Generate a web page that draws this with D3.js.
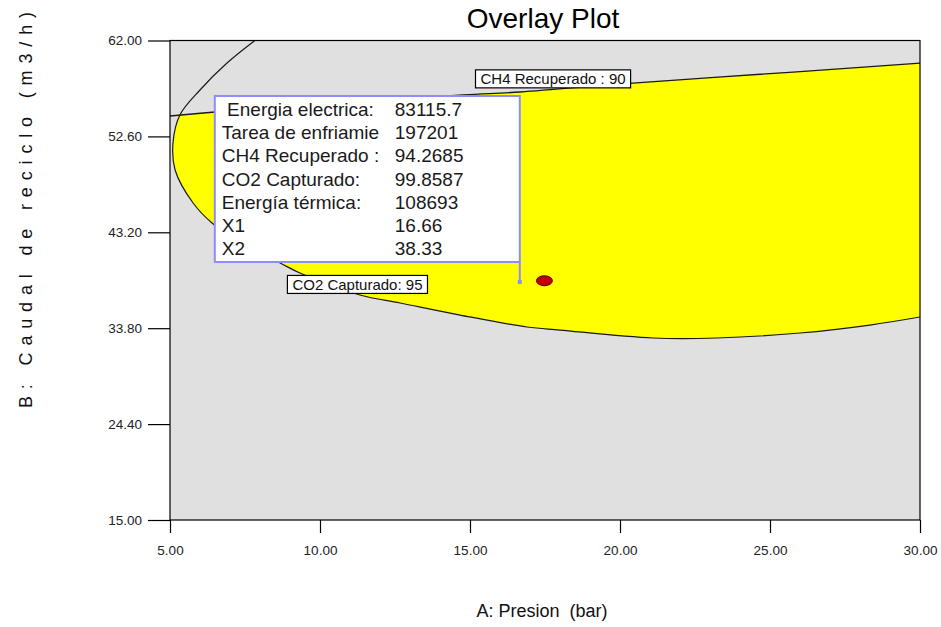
<!DOCTYPE html>
<html>
<head>
<meta charset="utf-8">
<script src="https://cdn.jsdelivr.net/npm/d3@7"></script>
<style>
  html, body { margin: 0; padding: 0; background: #fff; }
  svg { display: block; font-family: "Liberation Sans", Arial, sans-serif; }
</style>
</head>
<body>
<svg id="chart" width="941" height="627"></svg>
<script>
// Axis ranges and tick values
const xDomain = [5, 30];
const yDomain = [15, 62];
const xTicks = [5, 10, 15, 20, 25, 30];
const yTicks = [15, 24.4, 33.8, 43.2, 52.6, 62];

// Contour CO2 Capturado = 95 (A: Presion, B: Caudal de reciclo)
const co2Presion = [7.83, 6.90, 6.00, 5.33, 5.10, 5.17, 5.77, 6.40, 7.50, 8.67, 9.33, 11.33, 12.67, 14.67, 16.90, 18.00, 21.10, 23.23, 26.00, 28.33, 30.00];
const co2Caudal  = [62.00, 59.79, 57.15, 54.70, 51.95, 49.31, 46.07, 44.11, 41.86, 40.19, 39.21, 37.05, 36.27, 35.09, 33.92, 33.62, 32.84, 32.84, 33.33, 34.11, 34.90];

// Contour CH4 Recuperado = 90
const ch4Presion = [5.00, 6.50, 10.00, 14.77, 16.67, 20.43, 25.77, 30.00];
const ch4Caudal  = [54.60, 54.99, 55.75, 56.66, 56.95, 57.83, 58.91, 59.79];

// Contour labels and their anchor points
const contourLabels = ["CH4 Recuperado : 90", "CO2 Capturado: 95"];
const labelPresion = [15.35, 9.08];
const labelCaudal  = [57.7, 37.55];

// Selected design point
const pointPresion = [17.48];
const pointCaudal  = [38.45];

// Flag readout at X1/X2
const flagNames  = [" Energia electrica:", "Tarea de enfriamie", "CH4 Recuperado :", "CO2 Capturado:", "Energía térmica:", "X1", "X2"];
const flagValues = ["83115.7", "197201", "94.2685", "99.8587", "108693", "16.66", "38.33"];
const flagX1 = 16.66;
const flagX2 = 38.33;

const svg = d3.select("#chart");
const pLeft = 170, pRight = 920, pTop = 40.5, pBottom = 520;

const x = d3.scaleLinear().domain(xDomain).range([pLeft, pRight]);
const y = d3.scaleLinear().domain(yDomain).range([pBottom, pTop]);

const co2 = co2Presion.map((p, i) => [p, co2Caudal[i]]);
const ch4 = ch4Presion.map((p, i) => [p, ch4Caudal[i]]);

const curve = d3.line().x(d => x(d[0])).y(d => y(d[1])).curve(d3.curveCatmullRom.alpha(0.5));

const defs = svg.append("defs");
defs.append("clipPath").attr("id", "plotClip")
  .append("rect").attr("x", pLeft).attr("y", pTop).attr("width", pRight - pLeft).attr("height", pBottom - pTop);
// Region below the CH4 contour
defs.append("clipPath").attr("id", "ch4Clip")
  .append("path")
  .attr("d", curve(ch4) + `L${x(30)},${y(15)}L${x(5)},${y(15)}Z`);

// Plot background
svg.append("rect")
  .attr("x", pLeft).attr("y", pTop).attr("width", pRight - pLeft).attr("height", pBottom - pTop)
  .attr("fill", "#e0e0e0");

// Feasible (overlay) region
const plot = svg.append("g").attr("clip-path", "url(#plotClip)");
plot.append("g").attr("clip-path", "url(#ch4Clip)")
  .append("path")
  .attr("d", curve(co2) + `L${x(30)},${y(62)}Z`)
  .attr("fill", "#ffff00");

// Contour lines
plot.append("path").attr("d", curve(co2))
  .attr("fill", "none").attr("stroke", "#1a1a1a").attr("stroke-width", 1.2);
plot.append("path").attr("d", curve(ch4))
  .attr("fill", "none").attr("stroke", "#1a1a1a").attr("stroke-width", 1.3);

// Design point
plot.selectAll("ellipse.pt").data(pointPresion).join("ellipse")
  .attr("class", "pt")
  .attr("cx", (d) => x(d)).attr("cy", (d, i) => y(pointCaudal[i]))
  .attr("rx", 8).attr("ry", 5)
  .attr("fill", "#c00000").attr("stroke", "#5a0000").attr("stroke-width", 1);

// Frame
svg.append("rect")
  .attr("x", pLeft).attr("y", pTop).attr("width", pRight - pLeft).attr("height", pBottom - pTop)
  .attr("fill", "none").attr("stroke", "#000").attr("stroke-width", 1.2);

// Axes
const fmt = d3.format(".2f");
const xAxis = svg.append("g").attr("transform", `translate(0,${pBottom})`)
  .call(d3.axisBottom(x).tickValues(xTicks).tickFormat(fmt).tickSize(13).tickPadding(12));
const yAxis = svg.append("g").attr("transform", `translate(${pLeft},0)`)
  .call(d3.axisLeft(y).tickValues(yTicks).tickFormat(fmt).tickSize(22).tickPadding(6));
[xAxis, yAxis].forEach(g => {
  g.select(".domain").remove();
  g.selectAll(".tick line").attr("stroke", "#000").attr("stroke-width", 1.2);
  g.selectAll(".tick text").attr("fill", "#222")
    .style("font-family", "'Liberation Sans', Arial, sans-serif").style("font-size", "13.5px");
});

// Contour labels
contourLabels.forEach((t, i) => {
  const g = svg.append("g");
  const tx = g.append("text").attr("x", x(labelPresion[i])).attr("y", y(labelCaudal[i]))
    .attr("font-size", 15).attr("fill", "#111").text(t);
  const bb = tx.node().getBBox();
  g.insert("rect", "text")
    .attr("x", bb.x - 5).attr("y", bb.y - 0.5).attr("width", bb.width + 10).attr("height", bb.height + 1)
    .attr("fill", "#fff").attr("stroke", "#000").attr("stroke-width", 1.2);
});

// Flag box pointing to (X1, X2)
const fx = x(flagX1), fy = y(flagX2);
const boxW = 305, boxH = 166, gap = 20;
const bx = fx - boxW, by = fy - gap - boxH;
const flag = svg.append("g");
flag.append("line").attr("x1", fx).attr("x2", fx).attr("y1", by + boxH).attr("y2", fy)
  .attr("stroke", "#8c8cff").attr("stroke-width", 2);
flag.append("rect").attr("x", fx - 2).attr("y", fy - 2).attr("width", 4).attr("height", 4).attr("fill", "#8c8cff");
flag.append("rect").attr("x", bx).attr("y", by).attr("width", boxW).attr("height", boxH)
  .attr("fill", "#fff").attr("stroke", "#8c8cff").attr("stroke-width", 2);
flagNames.forEach((n, i) => {
  const yy = by + 20 + i * 23.2;
  flag.append("text").attr("x", bx + 7).attr("y", yy).attr("font-size", 19)
    .attr("fill", "#1a1a1a").style("white-space", "pre").text(n);
  flag.append("text").attr("x", bx + 180).attr("y", yy).attr("font-size", 19)
    .attr("fill", "#1a1a1a").text(flagValues[i]);
});

// Titles
svg.append("text").attr("x", 543).attr("y", 28).attr("text-anchor", "middle")
  .attr("font-size", 28).attr("fill", "#000").text("Overlay Plot");
svg.append("text").attr("x", 542).attr("y", 617).attr("text-anchor", "middle")
  .attr("font-size", 18).attr("fill", "#111").style("white-space", "pre").text("A: Presion  (bar)");
svg.append("text").attr("transform", "translate(32,210) rotate(-90)").attr("text-anchor", "middle")
  .attr("font-size", 18).attr("fill", "#111").style("white-space", "pre")
  .attr("textLength", 396).attr("lengthAdjust", "spacing")
  .text("B: Caudal de reciclo (m3/h)");
</script>
</body>
</html>
